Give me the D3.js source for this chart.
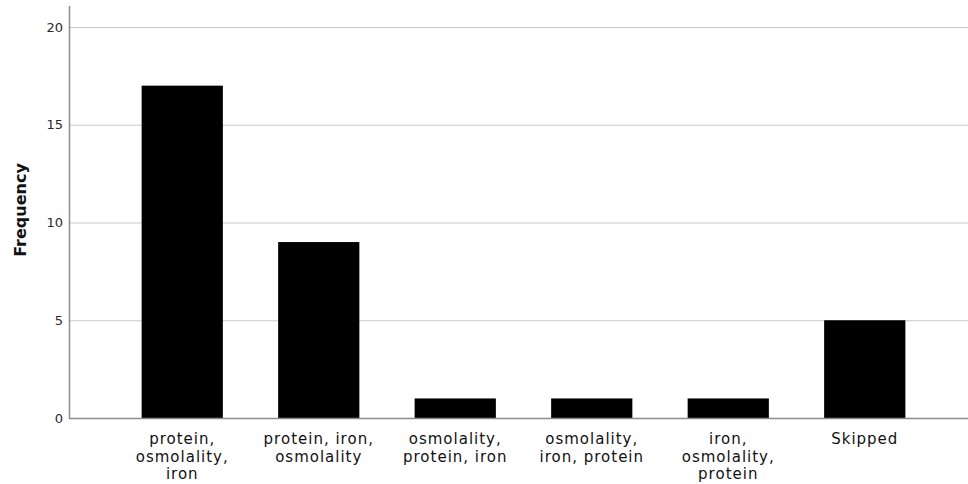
<!DOCTYPE html>
<html><head><meta charset="utf-8">
<script src="https://cdn.jsdelivr.net/npm/d3@7"></script>
<style>body{margin:0;background:#fff;} svg{display:block;}</style>
</head><body>
<svg id="c" width="968" height="484"></svg>
<script>
const categories = [
  ["protein,", "osmolality,", "iron"],
  ["protein, iron,", "osmolality"],
  ["osmolality,", "protein, iron"],
  ["osmolality,", "iron, protein"],
  ["iron,", "osmolality,", "protein"],
  ["Skipped"]
];
const frequencies = [17, 9, 1, 1, 1, 5];
const yTicks = [0, 5, 10, 15, 20];
const yLabel = "Frequency";

const svg = d3.select("#c");
const x0 = 69, x1 = 968, yTop = 6, yZero = 418;
const y = d3.scaleLinear().domain([0, 20]).range([yZero, 27]);
const x = d3.scaleBand().domain(d3.range(categories.length)).range([114, 933]).paddingInner(0.405).paddingOuter(0.2025);

// gridlines
svg.append("g").selectAll("line").data(yTicks.filter(d => d > 0)).join("line")
  .attr("x1", x0).attr("x2", x1).attr("y1", d => y(d) + 0.5).attr("y2", d => y(d) + 0.5)
  .attr("stroke", "#c8c8c8").attr("stroke-width", 1.2);

// bars
svg.append("g").selectAll("rect").data(frequencies).join("rect")
  .attr("x", (d, i) => x(i)).attr("width", x.bandwidth())
  .attr("y", d => y(d)).attr("height", d => yZero - y(d))
  .attr("fill", "#000");

// axes lines
svg.append("line").attr("x1", x0 + 0.5).attr("x2", x0 + 0.5).attr("y1", yTop).attr("y2", yZero + 1)
  .attr("stroke", "#8c8c8c").attr("stroke-width", 1.5);
svg.append("line").attr("x1", x0).attr("x2", x1).attr("y1", yZero + 0.5).attr("y2", yZero + 0.5)
  .attr("stroke", "#8c8c8c").attr("stroke-width", 1.5);

// y tick labels
svg.append("g").selectAll("text").data(yTicks).join("text")
  .attr("x", 63).attr("y", d => y(d)).attr("dy", "0.36em")
  .attr("text-anchor", "end").attr("font-family", "DejaVu Sans, sans-serif")
  .attr("font-size", 13).attr("fill", "#2a2a2a").text(d => d);

// x category labels
const lab = svg.append("g").selectAll("text").data(categories).join("text")
  .attr("text-anchor", "middle").attr("font-family", "DejaVu Sans, sans-serif")
  .attr("font-size", 15).attr("letter-spacing", 1).attr("fill", "#111")
  .attr("transform", (d, i) => `translate(${x(i) + x.bandwidth() / 2},444)`);
lab.selectAll("tspan").data(d => d).join("tspan")
  .attr("x", 0).attr("dy", (d, j) => j === 0 ? 0 : 17.5).text(d => d);

// y label
svg.append("text").attr("transform", "translate(26,210) rotate(-90)")
  .attr("text-anchor", "middle").attr("font-family", "DejaVu Sans, sans-serif")
  .attr("font-weight", "bold").attr("font-size", 16).attr("fill", "#111").text(yLabel);
</script>
</body></html>
